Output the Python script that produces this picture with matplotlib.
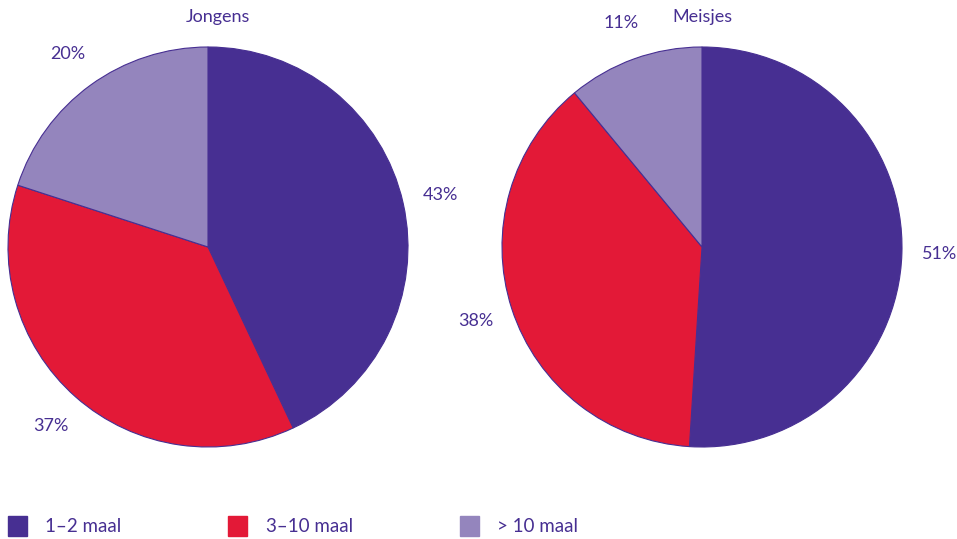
import matplotlib
matplotlib.use("Agg")
import matplotlib.pyplot as plt
from matplotlib.patches import Patch

plt.rcParams['font.family'] = ['Lato', 'DejaVu Sans']

# data
groups = ['Jongens', 'Meisjes']
categories = ['1–2 maal', '3–10 maal', '> 10 maal']
jongens = [43, 37, 20]
meisjes = [51, 38, 11]
colors = ['#472F92', '#E31937', '#9485BD']
text_color = '#472F92'

fig = plt.figure(figsize=(9.57, 5.39), dpi=100)

W, H = 957, 539
boxes = [
    [8 / W, (H - 447) / H, 400 / W, 400 / H],
    [502 / W, (H - 447) / H, 400 / W, 400 / H],
]
title_x = [218 / W, 702 / W]

for box, tx, name, vals in zip(boxes, title_x, groups, [jongens, meisjes]):
    ax = fig.add_axes(box)
    wedges, texts = ax.pie(vals, colors=colors, startangle=90, counterclock=False,
                           labels=[f'{v}%' for v in vals], labeldistance=1.19,
                           textprops={'color': text_color, 'fontsize': 13},
                           wedgeprops={'edgecolor': text_color, 'linewidth': 0.8})
    for t in texts:
        t.set_ha('center')
        t.set_va('center')
    ax.set_xlim(-1, 1)
    ax.set_ylim(-1, 1)
    ax.set_aspect('equal')
    fig.text(tx, 1 - 17 / H, name, color=text_color, fontsize=13,
             ha='center', va='center')

# legend
handles = [Patch(facecolor=c, edgecolor=c) for c in colors]
fig.legend(handles, categories, loc='lower left', bbox_to_anchor=(5 / W, 0.0),
           ncol=3, frameon=False, fontsize=13.5, labelcolor=text_color,
           borderaxespad=0.0, borderpad=0.15,
           handlelength=1.0, handleheight=1.3, handletextpad=1.0,
           columnspacing=5.7)

fig.savefig('out.png', dpi=100)
